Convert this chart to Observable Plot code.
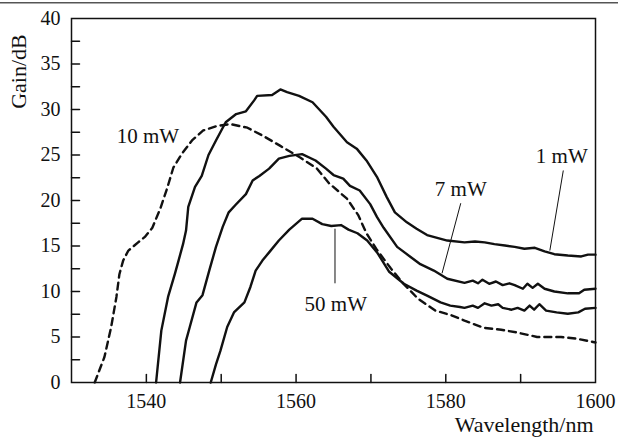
<!DOCTYPE html>
<html>
<head>
<meta charset="utf-8">
<script src="https://cdn.jsdelivr.net/npm/d3@7"></script>
<script src="https://cdn.jsdelivr.net/npm/@observablehq/plot@0.6"></script>
<style>
  html, body { margin: 0; padding: 0; background: #fff; }
  #wrap { position: relative; width: 618px; height: 440px; }
  #rule { position: absolute; left: 0; top: 2px; width: 618px; height: 0; border-top: 1px solid #555; border-bottom: 1px solid #aaa; }
  #wrap svg, #wrap svg text { font-family: "Liberation Serif", "Times New Roman", serif !important; }
</style>
</head>
<body>
<div id="wrap"><div id="rule"></div></div>
<script>
// ---- data (wavelength in nm, gain in dB) ----
const wl10 = [1533.1,1534.4,1535.3,1536.0,1536.4,1536.9,1537.6,1538.9,1539.8,1540.8,1541.9,1542.8,1543.6,1544.8,1546.1,1547.6,1549.5,1551.2,1553.5,1555.6,1557.9,1560.6,1562.8,1564.4,1566.8,1568.3,1569.4,1570.7,1572.6,1574.3,1576.3,1578.6,1580.7,1582.5,1585.1,1587.4,1589.5,1592.2,1595.4,1597.6,1600];
const g10  = [0,2.8,6.1,9.4,11.9,13.4,14.5,15.4,16.0,17.0,19.2,21.4,23.6,25.2,26.6,27.7,28.2,28.4,28.0,27.1,26.0,24.7,23.5,21.9,20.2,18.4,16.4,14.7,12.6,10.9,9.2,7.9,7.4,6.8,6.0,5.8,5.5,5.0,5.0,4.8,4.4];

const wl1 = [1541.3,1542.0,1542.9,1543.8,1544.3,1544.9,1545.3,1545.6,1546.5,1547.4,1548.3,1549.3,1550.6,1552.0,1553.3,1554.4,1554.8,1556.8,1557.9,1558.8,1560.4,1562.2,1564.0,1565.0,1566.8,1568.1,1569.4,1570.8,1572.1,1573.2,1574.8,1576.1,1577.5,1580.2,1582.5,1583.9,1585.2,1586.5,1587.9,1589.2,1590.5,1591.9,1593.2,1594.5,1596.3,1598.1,1599.0,1600];
const g1  = [0,5.7,9.4,11.9,13.4,15.2,16.7,19.3,21.5,22.7,25.0,26.6,28.6,29.5,29.8,31.0,31.5,31.6,32.2,31.9,31.5,30.8,29.2,28.1,26.4,25.7,24.4,22.6,20.4,18.7,17.6,16.9,16.2,15.6,15.4,15.5,15.4,15.2,15.05,14.9,14.7,14.8,14.4,14.1,13.95,13.85,14.05,14.05];

const wl7 = [1544.5,1545.3,1545.8,1546.7,1547.5,1548.4,1549.3,1550.2,1551.0,1551.9,1553.3,1554.2,1555.1,1556.4,1557.7,1559.1,1560.8,1562.6,1564.0,1565.0,1566.3,1567.2,1568.5,1569.9,1570.8,1571.7,1573.5,1575.3,1576.6,1578.4,1580.2,1582.5,1583.6,1584.3,1584.9,1585.8,1586.7,1587.6,1588.5,1589.2,1590.3,1590.9,1591.6,1592.3,1593.2,1594.5,1596.3,1597.8,1598.5,1600];
const g7  = [0,4.6,6.1,8.8,9.6,12.3,14.9,17.1,18.7,19.5,20.7,22.2,22.7,23.5,24.6,24.9,25.1,24.4,23.5,22.8,22.4,21.6,21.1,19.6,18.2,17.0,14.9,13.8,13.0,12.3,11.4,10.95,11.2,10.9,11.3,10.85,11.1,10.7,10.9,10.7,10.3,10.85,10.4,10.85,10.3,10.0,9.8,9.8,10.2,10.3];

const wl50 = [1548.6,1549.3,1549.9,1550.8,1551.7,1553.1,1553.9,1554.6,1555.5,1556.4,1557.7,1559.1,1560.8,1562.2,1563.5,1564.7,1566.0,1567.0,1568.2,1569.5,1570.9,1572.4,1574.4,1576.1,1577.5,1579.3,1580.6,1581.9,1582.5,1583.6,1584.3,1585.2,1586.1,1587.0,1587.6,1588.8,1589.6,1590.5,1591.2,1591.8,1592.5,1593.4,1594.8,1596.3,1597.7,1598.6,1600];
const g50  = [0,2.0,3.5,6.1,7.7,8.8,10.5,12.3,13.4,14.3,15.6,16.8,18.0,18.0,17.4,17.2,17.3,16.8,16.4,15.6,14.2,12.2,10.85,10.1,9.55,8.8,8.45,8.3,8.2,8.45,8.2,8.7,8.45,8.6,8.2,8.0,8.2,7.9,8.45,8.0,8.6,7.9,7.7,7.55,7.7,8.1,8.2];

// annotations
const labelText = ["10 mW", "1 mW", "7 mW", "50 mW"];
const labelWl   = [1540.2, 1595.5, 1582.0, 1565.3];
const labelGain = [26.3, 24.1, 20.5, 7.9];
const leaderWl1 = [1595.7, 1582.0, 1565.2];
const leaderG1  = [23.3, 19.7, 16.9];
const leaderWl2 = [1593.9, 1579.5, 1565.2];
const leaderG2  = [14.5, 12.0, 10.9];

// ticks
const xMinorTicks = [1540, 1550, 1560, 1570, 1580, 1590];
const xTickLabels = [1540, 1560, 1580, 1600];
const yMinorTicks = [2.5,5,7.5,10,12.5,15,17.5,20,22.5,25,27.5,30,32.5,35,37.5];
const yTickLabels = [0,5,10,15,20,25,30,35,40];

const toRows = (wl, g) => wl.map((w, i) => ({wl: w, g: g[i]}));
const s10 = toRows(wl10, g10), s1 = toRows(wl1, g1), s7 = toRows(wl7, g7), s50 = toRows(wl50, g50);
const labels = labelText.map((t, i) => ({t, wl: labelWl[i], g: labelGain[i]}));
const leaders = leaderWl1.map((w, i) => ({x1: w, y1: leaderG1[i], x2: leaderWl2[i], y2: leaderG2[i]}));

const tickShape = { draw(context, l) { context.moveTo(0, 0); context.lineTo(0, -l); } };
const serif = "Liberation Serif";

const chart = Plot.plot({
  width: 618,
  height: 440,
  marginLeft: 71,
  marginRight: 23,
  marginTop: 18,
  marginBottom: 58,
  style: {fontFamily: serif, fontSize: "20px", color: "#111", background: "transparent"},
  x: {domain: [1530, 1600]},
  y: {domain: [0, 40]},
  marks: [
    Plot.vector(xMinorTicks, {x: d => d, y: 0, length: 8, rotate: 0, anchor: "start", shape: tickShape, stroke: "#111", strokeWidth: 1.5}),
    Plot.vector(yMinorTicks, {x: 1530, y: d => d, length: 8, rotate: 90, anchor: "start", shape: tickShape, stroke: "#111", strokeWidth: 1.5}),
    Plot.axisX(xTickLabels, {tickSize: 0, tickPadding: 11, label: null, fontSize: 20, fontFamily: serif, tickFormat: d => String(d)}),
    Plot.axisY(yTickLabels, {tickSize: 0, tickPadding: 11, label: null, fontSize: 20, fontFamily: serif, tickFormat: d => String(d)}),
    Plot.frame({stroke: "#111", strokeWidth: 1.5}),
    Plot.line(s10, {x: "wl", y: "g", stroke: "#111", strokeWidth: 2.4, strokeDasharray: "7,5", strokeLinejoin: "round"}),
    Plot.line(s1, {x: "wl", y: "g", stroke: "#111", strokeWidth: 2.4, strokeLinejoin: "round"}),
    Plot.line(s7, {x: "wl", y: "g", stroke: "#111", strokeWidth: 2.4, strokeLinejoin: "round"}),
    Plot.line(s50, {x: "wl", y: "g", stroke: "#111", strokeWidth: 2.4, strokeLinejoin: "round"}),
    Plot.link(leaders, {x1: "x1", y1: "y1", x2: "x2", y2: "y2", stroke: "#111", strokeWidth: 1}),
    Plot.text(labels, {x: "wl", y: "g", text: "t", textAnchor: "middle", lineAnchor: "bottom", fontSize: 21, fontFamily: serif, fill: "#111"}),
    Plot.text(["Wavelength/nm"], {frameAnchor: "bottom-right", text: d => d, textAnchor: "end", lineAnchor: "bottom", dx: -2, dy: 49, fontSize: 22, fontFamily: serif, fill: "#111"}),
    Plot.text(["Gain/dB"], {frameAnchor: "top-left", text: d => d, textAnchor: "middle", lineAnchor: "bottom", rotate: -90, dx: -46, dy: 53, fontSize: 22, fontFamily: serif, fill: "#111"})
  ]
});
document.getElementById("wrap").appendChild(chart);
chart.style.position = "absolute";
chart.style.left = "0";
chart.style.top = "0";
</script>
</body>
</html>
